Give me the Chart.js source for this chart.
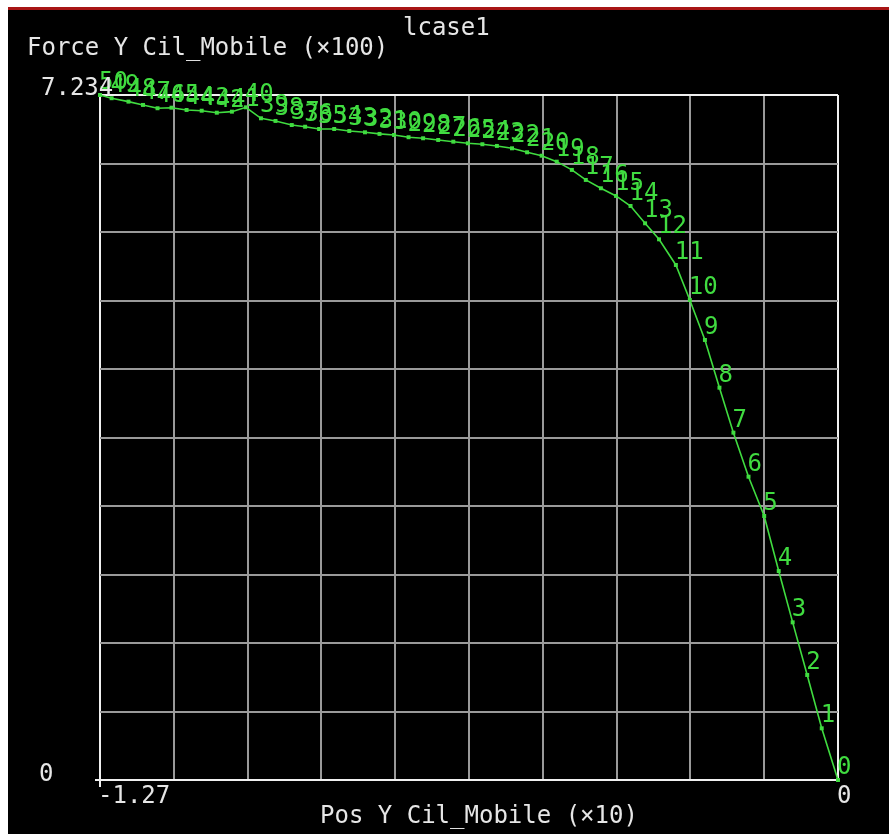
<!DOCTYPE html>
<html lang="en">
<head>
<meta charset="UTF-8" />
<title>lcase1</title>
<script src="https://cdn.jsdelivr.net/npm/chart.js"></script>
<style>
  body { margin: 0; background: #fff; }
  #frame { position: absolute; left: 8px; top: 7px; width: 881px; height: 824px; background: #000; border-top: 3px solid #a81515; }
  #chart { position: absolute; left: 0; top: 0; }
</style>
</head>
<body>
<div id="frame"></div>
<canvas id="chart" width="889" height="834"></canvas>
<script>
// point index 0..50
const posY = [
  0, -0.028, -0.053, -0.078, -0.102, -0.127, -0.154, -0.180, -0.204, -0.229,
  -0.255, -0.279, -0.308, -0.332, -0.357, -0.382, -0.408, -0.434, -0.458, -0.484,
  -0.510, -0.535, -0.561, -0.587, -0.612, -0.637, -0.662, -0.688, -0.714, -0.739,
  -0.764, -0.789, -0.814, -0.841, -0.867, -0.893, -0.917, -0.940, -0.968, -0.993,
  -1.019, -1.043, -1.069, -1.095, -1.121, -1.147, -1.171, -1.196, -1.221, -1.250,
  -1.270
];
const forceY = [
  0, 0.546, 1.109, 1.665, 2.207, 2.788, 3.203, 3.668, 4.143, 4.647,
  5.069, 5.439, 5.710, 5.879, 6.062, 6.168, 6.249, 6.337, 6.443, 6.530,
  6.593, 6.629, 6.671, 6.696, 6.714, 6.724, 6.741, 6.759, 6.777, 6.788,
  6.812, 6.823, 6.840, 6.854, 6.875, 6.875, 6.899, 6.917, 6.960, 6.988,
  7.104, 7.058, 7.047, 7.068, 7.076, 7.100, 7.094, 7.129, 7.164, 7.200,
  7.234
];
const xRange = [-1.27, 0];
const yRange = [0, 7.234];
const xTickLabels = ["-1.27", "0"];
const yTickLabels = ["0", "7.234"];
const chartTitle = "lcase1";
const xTitle = "Pos Y Cil_Mobile (\u00d710)";
const yTitle = "Force Y Cil_Mobile (\u00d7100)";

const green = "#40dc40";
const white = "#e6e6e6";
const font = '24px "DejaVu Sans Mono"';

function tenSteps(scale) {
  const t = [];
  for (let k = 0; k <= 10; k++) t.push({ value: scale.min + (scale.max - scale.min) * k / 10 });
  scale.ticks = t;
}
const gridColor = (c) => (c.index === 0 || c.index === 10 ? "#f0f0f0" : "#9a9a9a");

const texts = {
  id: "texts",
  afterDraw(chart) {
    const { ctx, scales: { x, y } } = chart;
    const meta = chart.getDatasetMeta(0);
    ctx.save();
    ctx.font = font;
    ctx.textBaseline = "alphabetic";
    ctx.textAlign = "left";
    // point numbers
    ctx.fillStyle = green;
    meta.data.forEach((p, i) => ctx.fillText(String(i), p.x - 1, p.y - 6));
    // white texts
    ctx.fillStyle = white;
    ctx.fillText(chartTitle, 403, 35);
    ctx.fillText(yTitle, 27, 55);
    ctx.fillText(xTitle, 320, 823);
    ctx.fillText(yTickLabels[1], 41, y.getPixelForValue(yRange[1]));
    ctx.fillText(yTickLabels[0], 39, y.getPixelForValue(yRange[0]) + 1);
    ctx.fillText(xTickLabels[0], x.getPixelForValue(xRange[0]) - 2, 803);
    ctx.fillText(xTickLabels[1], x.getPixelForValue(xRange[1]) - 1, 803);
    // little axis cross at origin corner
    ctx.strokeStyle = "#f0f0f0";
    ctx.lineWidth = 2;
    const x0 = x.getPixelForValue(xRange[0]), y0 = y.getPixelForValue(yRange[0]);
    ctx.beginPath();
    ctx.moveTo(x0 - 5, y0); ctx.lineTo(x0, y0);
    ctx.moveTo(x0, y0); ctx.lineTo(x0, y0 + 7);
    ctx.stroke();
    ctx.restore();
  }
};

new Chart(document.getElementById("chart"), {
  type: "scatter",
  data: {
    datasets: [{
      data: posY.map((v, i) => ({ x: v, y: forceY[i] })),
      showLine: true,
      borderColor: green,
      backgroundColor: green,
      borderWidth: 1.6,
      pointStyle: "rect",
      pointRadius: 2.8,
      pointBorderWidth: 0,
      clip: false
    }]
  },
  options: {
    responsive: false,
    animation: false,
    events: [],
    layout: { padding: { left: 100, right: 51, top: 95, bottom: 54 } },
    plugins: { legend: { display: false }, tooltip: { enabled: false } },
    scales: {
      x: {
        type: "linear", min: xRange[0], max: xRange[1],
        afterBuildTicks: tenSteps,
        ticks: { display: false },
        border: { display: false },
        grid: { color: gridColor, lineWidth: 2, drawTicks: false }
      },
      y: {
        type: "linear", min: yRange[0], max: yRange[1],
        afterBuildTicks: tenSteps,
        ticks: { display: false },
        border: { display: false },
        grid: { color: gridColor, lineWidth: 2, drawTicks: false }
      }
    }
  },
  plugins: [texts]
});
</script>
</body>
</html>
